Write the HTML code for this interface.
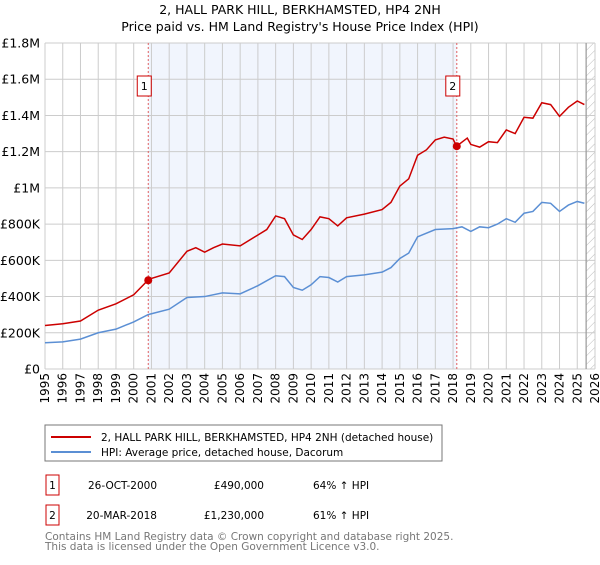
<!DOCTYPE html>
<html><head><meta charset="utf-8"><style>
body{margin:0;background:#fff;font-family:"Liberation Sans","DejaVu Sans",sans-serif;}
svg text{font-family:"DejaVu Sans","Liberation Sans",sans-serif;}
</style></head><body>
<svg id="c" width="600" height="560" xmlns="http://www.w3.org/2000/svg">
<defs><pattern id="h" width="6" height="6" patternUnits="userSpaceOnUse" patternTransform="rotate(45)"><line x1="0" y1="0" x2="0" y2="6" stroke="#bbb" stroke-width="1"/></pattern></defs>
<text x="300" y="14" text-anchor="middle" font-size="12.5">2, HALL PARK HILL, BERKHAMSTED, HP4 2NH</text>
<text x="300" y="31" text-anchor="middle" font-size="12.5">Price paid vs. HM Land Registry's House Price Index (HPI)</text>
<g id="plot"></g>
<rect x="45" y="425" width="397" height="36" fill="#fff" stroke="#777"/>
<line x1="51" y1="437" x2="91" y2="437" stroke="#cc0000" stroke-width="2"/>
<text x="101" y="441" font-size="10.5">2, HALL PARK HILL, BERKHAMSTED, HP4 2NH (detached house)</text>
<line x1="51" y1="452" x2="91" y2="452" stroke="#5b8fd4" stroke-width="2"/>
<text x="101" y="456" font-size="10.5">HPI: Average price, detached house, Dacorum</text>
<g font-size="10.5">
<rect x="46" y="475" width="13" height="20" fill="none" stroke="#cc0000"/>
<text x="52.5" y="489" text-anchor="middle">1</text>
<text x="157" y="489" text-anchor="end">26-OCT-2000</text>
<text x="264" y="489" text-anchor="end">£490,000</text>
<text x="313" y="489">64% ↑ HPI</text>
<rect x="46" y="505" width="13" height="20" fill="none" stroke="#cc0000"/>
<text x="52.5" y="519" text-anchor="middle">2</text>
<text x="157" y="519" text-anchor="end">20-MAR-2018</text>
<text x="264" y="519" text-anchor="end">£1,230,000</text>
<text x="313" y="519">61% ↑ HPI</text>
</g>
<text x="45" y="540" font-size="10.5" fill="#777">Contains HM Land Registry data © Crown copyright and database right 2025.</text>
<text x="45" y="550" font-size="10.5" fill="#777">This data is licensed under the Open Government Licence v3.0.</text>
</svg>
<script>
const hpiYears=[1995,1996,1997,1998,1999,2000,2000.8,2001,2002,2003,2004,2005,2006,2007,2008,2008.5,2009,2009.5,2010,2010.5,2011,2011.5,2012,2013,2014,2014.5,2015,2015.5,2016,2017,2018,2018.5,2019,2019.5,2020,2020.5,2021,2021.5,2022,2022.5,2023,2023.5,2024,2024.5,2025,2025.4];
const hpiValues=[145,150,165,200,220,260,300,305,330,395,400,420,415,460,515,510,450,435,465,510,505,480,510,520,535,560,610,640,730,770,775,785,760,785,780,800,830,810,860,870,920,915,870,905,925,915];
const priceYears=[1995,1996,1997,1998,1999,2000,2000.8,2001,2002,2003,2003.5,2004,2004.5,2005,2006,2007,2007.5,2008,2008.5,2009,2009.5,2010,2010.5,2011,2011.5,2012,2013,2014,2014.5,2015,2015.5,2016,2016.5,2017,2017.5,2018,2018.2,2018.8,2019,2019.5,2020,2020.5,2021,2021.5,2022,2022.5,2023,2023.5,2024,2024.5,2025,2025.4];
const priceValues=[240,250,265,325,360,410,490,500,530,650,670,645,670,690,680,740,770,845,830,740,715,770,840,830,790,835,855,880,920,1010,1050,1180,1210,1265,1280,1270,1230,1275,1240,1225,1255,1250,1320,1300,1390,1385,1470,1460,1395,1445,1480,1460];
const saleYears=[2000.82,2018.21];
const saleValues=[490,1230];
const yTicks=[0,200,400,600,800,1000,1200,1400,1600,1800];
const yTickLabels=["£0","£200K","£400K","£600K","£800K","£1M","£1.2M","£1.4M","£1.6M","£1.8M"];
const xTicks=[1995,1996,1997,1998,1999,2000,2001,2002,2003,2004,2005,2006,2007,2008,2009,2010,2011,2012,2013,2014,2015,2016,2017,2018,2019,2020,2021,2022,2023,2024,2025,2026];
const X0=45,X1=595,Y0=369,Y1=43;
const x=v=>X0+(v-1995)/(2026-1995)*(X1-X0);
const y=v=>Y0-v/1800*(Y0-Y1);
const NS="http://www.w3.org/2000/svg";
const g=document.getElementById('plot');
function mk(t,a){const e=document.createElementNS(NS,t);for(const k in a)e.setAttribute(k,a[k]);g.appendChild(e);return e;}
let e=mk('rect',{x:x(saleYears[0]),y:Y1,width:x(saleYears[1])-x(saleYears[0]),height:Y0-Y1,fill:'#eef3fc',opacity:0.8});


e=mk('rect',{x:x(2025.5),y:Y1,width:X1-x(2025.5),height:Y0-Y1,fill:'url(#h)'});


xTicks.forEach(t=>{
 const l=mk('line',{x1:x(t),x2:x(t),y1:Y1,y2:Y0,stroke:'#ccc','stroke-width':1});
 
 
 const tx=mk('text',{x:0,y:0,'font-size':12,'text-anchor':'end',transform:`translate(${x(t)+4},${Y0+4}) rotate(-90)`});
 tx.textContent=t;
 
 
});
yTicks.forEach((t,i)=>{
 const l=mk('line',{x1:X0,x2:X1,y1:y(t),y2:y(t),stroke:'#ccc','stroke-width':1});
 
 
 const tx=mk('text',{x:X0-5,y:y(t)+4.5,'font-size':12.5,'text-anchor':'end'});
 tx.textContent=yTickLabels[i];
 
 
});
e=mk('line',{x1:x(2025.5),x2:x(2025.5),y1:Y1,y2:Y0,stroke:'#999','stroke-width':1.2});


saleYears.forEach((s,i)=>{
 const l=mk('line',{x1:x(s),x2:x(s),y1:Y1,y2:Y0,stroke:'#e06060','stroke-dasharray':'2,2','stroke-width':1});
 
 
 const r=mk('rect',{x:x(s)-11,y:76,width:14,height:20,fill:'#fff',stroke:'#cc0000'});
 
 
 const t=mk('text',{x:x(s)-4,y:90,'font-size':11,'text-anchor':'middle'});
 t.textContent=String(i+1);
 
 
});
e=mk('polyline',{points:hpiYears.map((v,i)=>x(v)+','+y(hpiValues[i])).join(' '),fill:'none',stroke:'#5b8fd4','stroke-width':1.5});


e=mk('polyline',{points:priceYears.map((v,i)=>x(v)+','+y(priceValues[i])).join(' '),fill:'none',stroke:'#cc0000','stroke-width':1.5});


saleYears.forEach((s,i)=>{
 const c=mk('circle',{cx:x(s),cy:y(saleValues[i]),r:4,fill:'#cc0000'});
 
 
});
</script>
</body></html>
